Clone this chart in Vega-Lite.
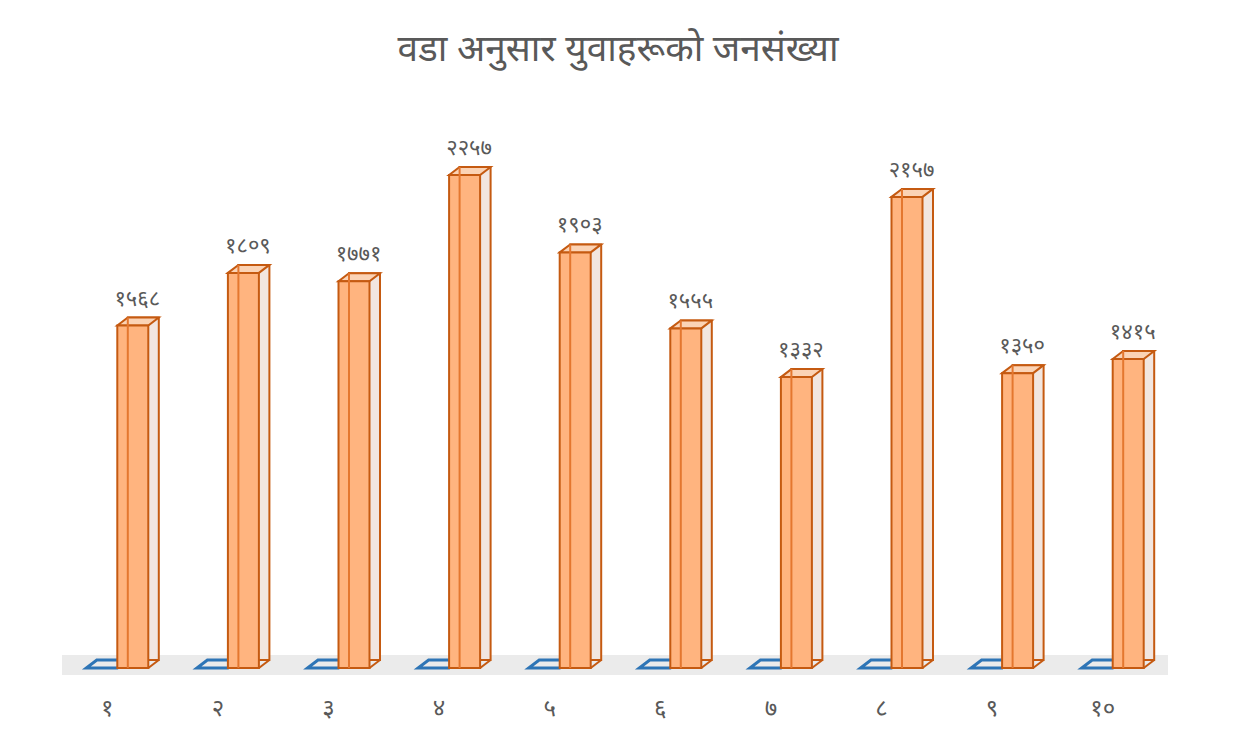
{
  "$schema": "https://vega.github.io/schema/vega-lite/v6.json",
  "width": 1106,
  "height": 546,
  "autosize": {"type": "none"},
  "padding": {"left": 62, "top": 122, "right": 67, "bottom": 78},
  "background": "white",
  "title": {
    "text": "वडा अनुसार युवाहरूको जनसंख्या",
    "fontSize": 37,
    "fontWeight": "normal",
    "color": "#595959",
    "anchor": "middle",
    "offset": 53,
    "dx": 3,
    "font": "Noto Sans Devanagari, Noto Sans, sans-serif"
  },
  "data": {
    "values": [
      {"ward": "१", "label": "१५६८", "value": 1568, "other": 0},
      {"ward": "२", "label": "१८०९", "value": 1809, "other": 0},
      {"ward": "३", "label": "१७७१", "value": 1771, "other": 0},
      {"ward": "४", "label": "२२५७", "value": 2257, "other": 0},
      {"ward": "५", "label": "१९०३", "value": 1903, "other": 0},
      {"ward": "६", "label": "१५५५", "value": 1555, "other": 0},
      {"ward": "७", "label": "१३३२", "value": 1332, "other": 0},
      {"ward": "८", "label": "२१५७", "value": 2157, "other": 0},
      {"ward": "९", "label": "१३५०", "value": 1350, "other": 0},
      {"ward": "१०", "label": "१४१५", "value": 1415, "other": 0}
    ]
  },
  "encoding": {
    "x": {
      "field": "ward",
      "type": "nominal",
      "sort": null,
      "scale": {"paddingInner": 0, "paddingOuter": 0},
      "axis": {
        "title": null,
        "domain": false,
        "ticks": false,
        "grid": false,
        "labelAngle": 0,
        "labelFontSize": 24,
        "labelColor": "#595959",
        "labelPadding": 28,
        "labelOffset": -10,
        "labelFont": "Noto Sans Devanagari, Noto Sans, sans-serif"
      }
    }
  },
  "layer": [
    {
      "mark": {"type": "rule", "color": "#ebebeb", "strokeWidth": 20, "yOffset": -3},
      "encoding": {
        "x": null,
        "y": {"datum": 0, "type": "quantitative", "scale": {"domain": [0, 2500], "nice": false}, "axis": null}
      }
    },
    {
      "mark": {
        "type": "point",
        "shape": "M-15.5,0 L15.5,0 L26,-8 L-5,-8 Z",
        "size": 4,
        "filled": false,
        "stroke": "#2e75b6",
        "strokeWidth": 3,
        "opacity": 1,
        "xOffset": -15.5
      },
      "encoding": {
        "y": {"field": "other", "type": "quantitative", "scale": {"domain": [0, 2500], "nice": false}, "axis": null}
      }
    },
    {
      "mark": {
        "type": "bar",
        "width": 31,
        "xOffset": 26,
        "yOffset": -8,
        "fill": "#f2e6e0",
        "stroke": "#c55a11",
        "strokeWidth": 2
      },
      "encoding": {
        "y": {"field": "value", "type": "quantitative", "scale": {"domain": [0, 2500], "nice": false}, "axis": null}
      }
    },
    {
      "mark": {
        "type": "point",
        "shape": "M15.5,0 L26,-8",
        "size": 4,
        "filled": false,
        "stroke": "#c55a11",
        "strokeWidth": 2,
        "opacity": 1,
        "xOffset": 15.5
      },
      "encoding": {
        "y": {"field": "other", "type": "quantitative", "scale": {"domain": [0, 2500], "nice": false}, "axis": null}
      }
    },
    {
      "mark": {
        "type": "point",
        "shape": "M-15.5,0 L-5,-8 L26,-8 L15.5,0 Z",
        "size": 4,
        "filled": true,
        "fill": "#fbd3b5",
        "stroke": "#c55a11",
        "strokeWidth": 2,
        "opacity": 1,
        "xOffset": 15.5
      },
      "encoding": {
        "y": {"field": "value", "type": "quantitative", "scale": {"domain": [0, 2500], "nice": false}, "axis": null}
      }
    },
    {
      "mark": {
        "type": "bar",
        "width": 31,
        "xOffset": 15.5,
        "fill": "#ffb47f",
        "stroke": "#c55a11",
        "strokeWidth": 2
      },
      "encoding": {
        "y": {"field": "value", "type": "quantitative", "scale": {"domain": [0, 2500], "nice": false}, "axis": null}
      }
    },
    {
      "mark": {
        "type": "rule",
        "xOffset": 10.5,
        "yOffset": -8,
        "stroke": "#e4772f",
        "strokeWidth": 2
      },
      "encoding": {
        "y": {"field": "value", "type": "quantitative", "scale": {"domain": [0, 2500], "nice": false}, "axis": null},
        "y2": {"field": "other"}
      }
    },
    {
      "mark": {
        "type": "text",
        "xOffset": 20,
        "dy": -27,
        "fontSize": 22,
        "color": "#595959",
        "font": "Noto Sans Devanagari, Noto Sans, sans-serif"
      },
      "encoding": {
        "y": {"field": "value", "type": "quantitative", "scale": {"domain": [0, 2500], "nice": false}, "axis": null},
        "text": {"field": "label"}
      }
    }
  ],
  "config": {"view": {"stroke": null}}
}
